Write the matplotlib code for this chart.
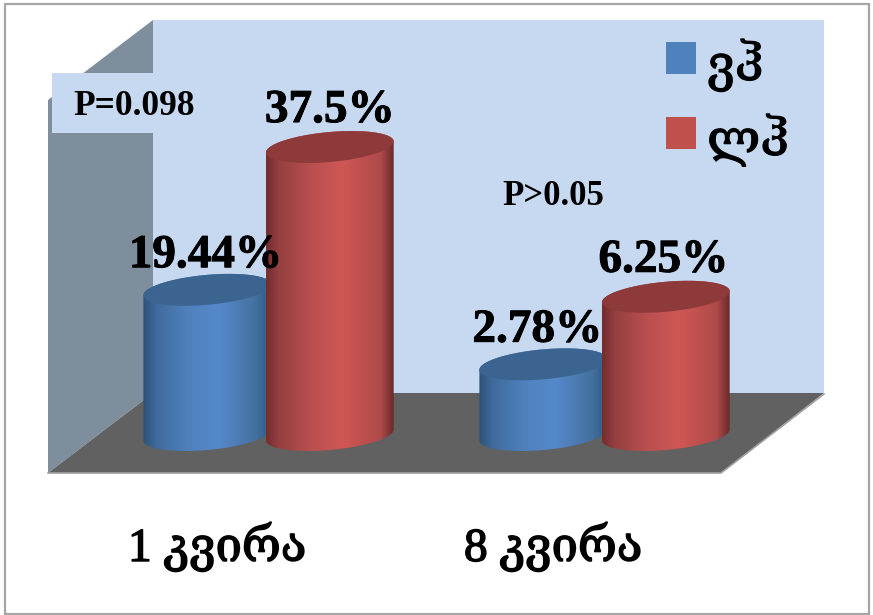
import numpy as np
import matplotlib
matplotlib.use("Agg")
import matplotlib.pyplot as plt
import matplotlib.patheffects as pe
from matplotlib.colors import LinearSegmentedColormap
from matplotlib.patches import Polygon, Rectangle, Patch

categories = ["1 კვირა", "8 კვირა"]
series_names = ["ვჰ", "ლჰ"]
# heights, they do not follow the printed labels
blue_heights = [18.9, 9.2]
red_heights = [37.5, 18.0]
blue_labels = ["19.44%", "2.78%"]
red_labels = ["37.5%", "6.25%"]
p_labels = ["P=0.098", "P>0.05"]

W, H = 873, 615
SERIF = ["Liberation Serif", "DejaVu Serif", "DejaVu Sans"]

# px per unit and zero line of the bar axes
PX_X = 336.0
PX_Y = 7.68
X0 = 266.0
Y0 = 435.0

fig = plt.figure(figsize=(W / 100, H / 100), dpi=100)

# background: walls and floor, in pixels
bg = fig.add_axes([0, 0, 1, 1])
bg.set_xlim(0, W)
bg.set_ylim(H, 0)
bg.axis("off")
bg.add_patch(Rectangle((4.5, 3.5), 864.5, 610, fc="white", ec="#A6A6A6", lw=1.6))
bg.add_patch(Polygon([(153, 20), (824, 20), (824, 393), (153, 393)], fc="#C6D9F1", ec="none"))
bg.add_patch(Polygon([(48, 100), (153, 20), (153, 393), (48, 473)], fc="#7F8E9D", ec="none"))
bg.add_patch(Polygon([(48, 473), (153, 393), (824, 393), (721, 473)], fc="#616161", ec="none"))
bg.plot([48, 721, 824], [473, 473, 394], color="#A0A0A0", lw=1.2)
bg.add_patch(Rectangle((52, 73), 101, 60, fc="#C6D9F1", ec="none"))

# bars
ax = fig.add_axes([0, 0, 1, 1])
ax.patch.set_alpha(0)
ax.axis("off")
xlim = (-X0 / PX_X, (W - X0) / PX_X)
ylim = ((Y0 - H) / PX_Y, Y0 / PX_Y)

blue_cmap = LinearSegmentedColormap.from_list(
    "b", [(0, "#2F5379"), (0.1, "#3F6A9B"), (0.35, "#4F81BD"), (0.6, "#5689CB"), (0.88, "#44719F"), (1, "#335A85")])
red_cmap = LinearSegmentedColormap.from_list(
    "r", [(0, "#722D2D"), (0.1, "#964040"), (0.35, "#B84F4F"), (0.6, "#CF5754"), (0.9, "#AE4A49"), (1, "#6B2A2A")])


def ellipse(cx, y, half_w):
    # tilted ellipse, the left side sits lower than the right
    t = np.linspace(0, 2 * np.pi, 120)
    b = 15.0 / PX_Y
    s = 5.5 / PX_Y
    return np.column_stack([cx + half_w * np.cos(t), y + b * np.sin(t) + s * np.cos(t)])


def cylinder(cx, width, height, cmap, top_color, z):
    half_w = width / 2
    bottom = ellipse(cx, 0, half_w)
    top = ellipse(cx, height, half_w)
    # body outline = lower half of the bottom ellipse + upper part of the top one
    lower = bottom[60:]
    upper = top[:60]
    body = Polygon(np.vstack([lower, upper]), closed=True, transform=ax.transData, fc="none", ec="none")
    ax.add_patch(body)
    img = ax.imshow(np.linspace(0, 1, 200)[None, :], cmap=cmap, aspect="auto", zorder=z,
                    extent=(cx - half_w, cx + half_w, -4, height + 4), interpolation="bilinear")
    img.set_clip_path(body)
    ax.add_patch(Polygon(top, closed=True, fc=top_color, ec="none", zorder=z + 0.1))


BLUE_W = 0.38
RED_W = 0.38
heavy = [pe.withStroke(linewidth=0.7, foreground="black")]
x = np.arange(len(categories))
for i in x:
    cylinder(i - 0.175, BLUE_W, blue_heights[i], blue_cmap, "#3C6491", 2)
    cylinder(i + RED_W / 2, RED_W, red_heights[i], red_cmap, "#8E3A3A", 3)

ax.set_xlim(xlim)
ax.set_ylim(ylim)

# value labels sit a fixed distance over the bar tops
for i in x:
    ax.text(i - 0.18 - 0.012 * i, blue_heights[i] + 2.95, blue_labels[i], ha="center", va="baseline",
            fontsize=34, fontweight="bold", family=SERIF, path_effects=heavy, zorder=5)
    ax.text(i + RED_W / 2 - 0.007 * i, red_heights[i] + 3.25, red_labels[i], ha="center", va="baseline",
            fontsize=34, fontweight="bold", family=SERIF, path_effects=heavy, zorder=5)
    ax.text(i - 0.145, -16.4, categories[i], ha="center", va="baseline", fontsize=34, family=SERIF,
            path_effects=[pe.withStroke(linewidth=1.1, foreground="black")])

fig.text(134 / W, 1 - 115 / H, p_labels[0], ha="center", va="baseline", fontsize=25.5, fontweight="bold", family=SERIF)
fig.text(553 / W, 1 - 205 / H, p_labels[1], ha="center", va="baseline", fontsize=25, fontweight="bold", family=SERIF)

handles = [Patch(fc="#4F81BD", ec="none"), Patch(fc="#C0504D", ec="none")]
leg = ax.legend(handles, series_names, loc="upper left", bbox_to_anchor=(666 / W, 1 - 39 / H),
                bbox_transform=fig.transFigure, frameon=False, handlelength=0.6, handleheight=0.6,
                handletextpad=0.22, labelspacing=0.45, borderpad=0, borderaxespad=0,
                prop={"family": SERIF, "size": 36})
for text in leg.get_texts():
    text.set_path_effects([pe.withStroke(linewidth=0.9, foreground="black")])
# squares sit higher than the text in the original
for h in leg.legend_handles:
    h.set_y(h.get_y() + 3.5)

fig.savefig("out.png", dpi=100)
